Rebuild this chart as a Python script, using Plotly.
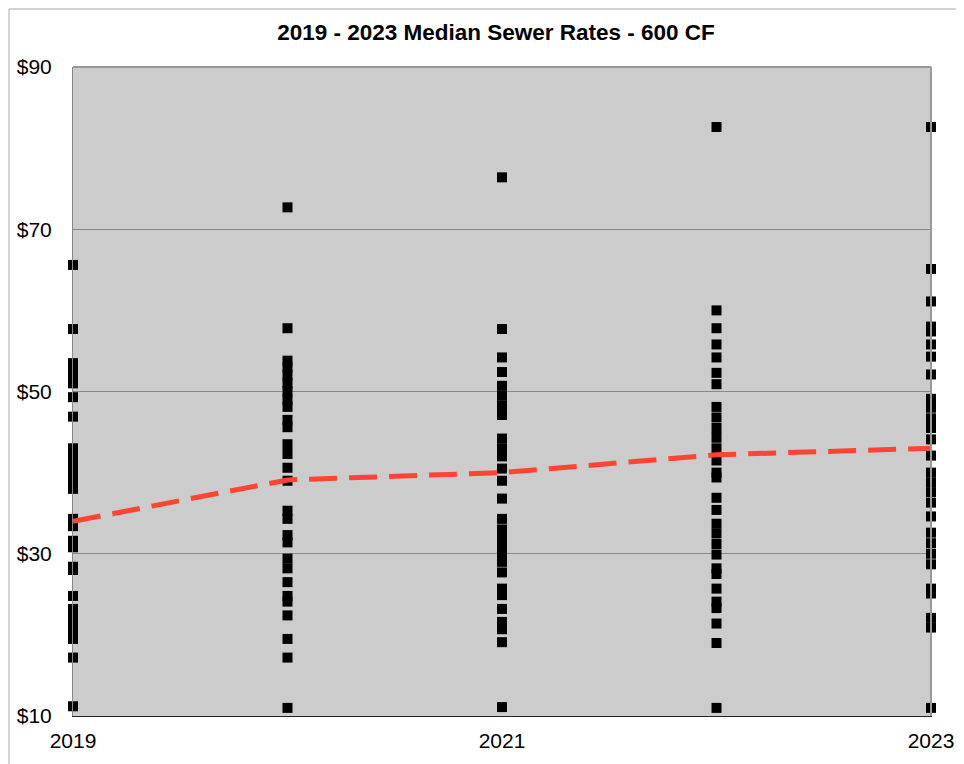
import plotly.graph_objects as go

years = [2019, 2020, 2021, 2022, 2023]

rates_2019 = [65.6, 57.7, 53.5, 52.7, 52.0, 51.0, 49.3, 46.9, 43.0, 42.0, 41.0, 40.3,
              39.5, 38.7, 38.0, 34.3, 33.4, 31.6, 30.8, 28.4, 28.0, 24.8, 23.2, 22.4,
              21.6, 21.0, 20.2, 19.5, 17.2, 11.2]
rates_2020 = [72.7, 57.8, 53.8, 53.0, 52.0, 51.0, 50.0, 49.0, 48.1, 46.5, 45.6, 43.5,
              42.3, 40.6, 39.0, 35.3, 34.3, 32.3, 31.4, 29.4, 28.2, 26.5, 24.8, 24.1,
              22.4, 19.5, 17.2, 11.0]
rates_2021 = [76.4, 57.7, 54.2, 52.4, 50.7, 49.5, 48.3, 47.1, 44.2, 43.0, 42.0, 40.5,
              39.0, 36.8, 34.3, 33.0, 32.0, 31.0, 30.0, 29.0, 27.7, 25.7, 24.9, 23.2,
              21.6, 20.7, 19.1, 11.1]
rates_2022 = [82.6, 60.0, 57.8, 55.8, 54.2, 52.3, 50.9, 48.1, 46.8, 45.5, 44.3, 43.0,
              41.5, 40.0, 39.4, 36.9, 35.4, 33.7, 32.5, 31.2, 29.9, 28.2, 27.5, 25.7,
              24.1, 23.3, 21.4, 19.0, 11.0]
rates_2023 = [82.6, 65.1, 61.1, 58.0, 57.4, 55.8, 54.3, 52.1, 49.1, 48.0, 46.7, 45.5,
              44.1, 42.1, 40.0, 38.8, 37.6, 36.3, 34.6, 32.6, 31.3, 30.0, 28.7, 25.7,
              25.1, 22.1, 20.9, 11.0]
medians = [34.0, 39.1, 40.0, 42.2, 43.0]

y_tickvals = [10, 30, 50, 70, 90]
y_ticktext = ["$10", "$30", "$50", "$70", "$90"]
x_tickvals = [2019, 2021, 2023]

all_rates = [rates_2019, rates_2020, rates_2021, rates_2022, rates_2023]
xs, ys = [], []
for yr, vals in zip(years, all_rates):
    xs += [yr] * len(vals)
    ys += vals

fig = go.Figure()
fig.add_trace(go.Scatter(
    x=xs, y=ys, mode="markers",
    marker=dict(symbol="square", size=10, color="black", line=dict(width=0)),
    cliponaxis=False, showlegend=False, hoverinfo="skip"))
fig.add_trace(go.Scatter(
    x=years, y=medians, mode="lines",
    line=dict(color="#FF4433", width=5, dash="28px,12px"),
    cliponaxis=False, showlegend=False))

# plot area in figure px (page body has an 8px margin)
L, T, W, H = 65, 59, 858, 649
FW, FH = 964, 764

def px(v):
    return (v - L) / W

def py(v):
    return 1 - (v - T) / H

# outer chart border (top, left, right)
fig.add_shape(type="path", xref="paper", yref="paper",
              path=f"M {px(1)} {py(FH)} L {px(1)} {py(1)} L {px(953)} {py(1)} L {px(953)} {py(FH)}",
              line=dict(color="#AAAAAA", width=1), layer="below")

fig.update_layout(
    width=FW, height=FH,
    margin=dict(l=L, r=FW - L - W, t=T, b=FH - T - H),
    paper_bgcolor="white", plot_bgcolor="#CCCCCC",
    font=dict(family="Liberation Sans, Arial, sans-serif", color="black", size=21),
    title=dict(text="<b>2019 - 2023 Median Sewer Rates - 600 CF</b>",
               x=(496 - 8) / FW, xanchor="center", y=1 - 24 / FH, yanchor="middle",
               font=dict(size=22.5)),
    xaxis=dict(range=[2019, 2023], tickvals=x_tickvals, ticktext=[str(v) for v in x_tickvals],
               showgrid=False, zeroline=False, showline=True, linecolor="#222222", linewidth=1,
               mirror=False, ticks="outside", ticklen=6, tickcolor="rgba(0,0,0,0)",
               automargin=False),
    yaxis=dict(range=[10, 90], tickvals=y_tickvals, ticktext=y_ticktext,
               showgrid=True, gridcolor="#888888", gridwidth=1, zeroline=False,
               showline=True, linecolor="#888888", linewidth=1, mirror=True,
               ticks="outside", ticklen=16, tickcolor="rgba(0,0,0,0)",
               automargin=False),
)
# top/right plot border
fig.add_shape(type="line", xref="paper", yref="paper", x0=1, x1=1, y0=0, y1=1,
              line=dict(color="#999999", width=2))
fig.add_shape(type="line", xref="paper", yref="paper", x0=0, x1=1, y0=1, y1=1,
              line=dict(color="#999999", width=2))

fig.write_html("out.html")
